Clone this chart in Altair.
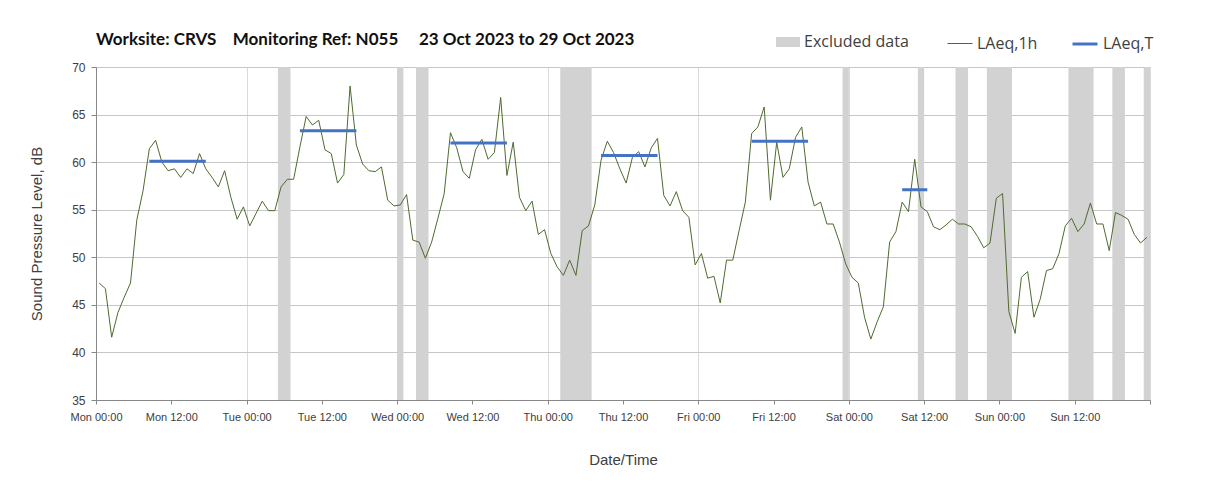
import altair as alt
import pandas as pd

# ---------------- data ----------------
days = ["Mon", "Tue", "Wed", "Thu", "Fri", "Sat", "Sun"]

# hourly LAeq,1h values, Mon 00:00 .. Sun 23:00 (168 hours)
laeq_1h = [
    47.3, 46.7, 41.6, 44.2, 45.8, 47.3, 53.9, 57.0, 61.4, 62.3, 60.0, 59.1,
    59.3, 58.4, 59.3, 58.8, 60.9, 59.3, 58.4, 57.4, 59.1, 56.3, 54.0, 55.3,
    53.3, 54.6, 55.9, 54.9, 54.9, 57.4, 58.2, 58.2, 61.6, 64.8, 63.9, 64.4,
    61.3, 60.9, 57.8, 58.7, 68.0, 61.8, 59.8, 59.1, 59.0, 59.5, 56.0, 55.4,
    55.5, 56.6, 51.8, 51.6, 49.9, 51.6, 54.1, 56.7, 63.1, 61.5, 59.0, 58.3,
    61.3, 62.4, 60.3, 61.0, 66.8, 58.6, 62.1, 56.3, 54.9, 55.9, 52.4, 52.9,
    50.4, 49.0, 48.1, 49.7, 48.1, 52.8, 53.3, 55.5, 60.2, 62.2, 61.0, 59.3,
    57.8, 60.5, 61.1, 59.5, 61.5, 62.5, 56.5, 55.4, 56.9, 54.9, 54.2, 49.2,
    50.4, 47.8, 48.0, 45.2, 49.7, 49.7, 52.8, 55.8, 63.0, 63.7, 65.8, 56.0,
    62.1, 58.4, 59.3, 62.6, 63.7, 57.9, 55.4, 55.8, 53.5, 53.5, 51.6, 49.3,
    47.9, 47.3, 43.7, 41.4, 43.2, 44.8, 51.6, 52.7, 55.8, 54.8, 60.3, 55.3,
    54.8, 53.2, 52.9, 53.4, 54.0, 53.5, 53.5, 53.2, 52.2, 51.0, 51.5, 56.2,
    56.7, 44.3, 42.0, 47.9, 48.5, 43.7, 45.6, 48.6, 48.8, 50.4, 53.3, 54.1,
    52.7, 53.5, 55.7, 53.5, 53.5, 50.7, 54.7, 54.4, 54.0, 52.4, 51.5, 52.1,
]

# excluded-data periods (hour from start of week)
excl_start = [29, 48, 51, 74, 119, 131, 137, 142, 155, 162, 167]
excl_end = [31, 49, 53, 79, 120, 132, 139, 146, 159, 164, 168]

# LAeq,T periods (first hour, last hour, level)
laeqT_first = [8, 32, 56, 80, 104, 128]
laeqT_last = [17, 41, 65, 89, 113, 132]
laeqT_level = [60.1, 63.3, 62.0, 60.7, 62.2, 57.1]

hours = list(range(len(laeq_1h)))
tick_hours = list(range(0, 169, 12))
y_ticks = list(range(35, 71, 5))

FONT = "Lato"
LEG_FONT = "Open Sans"
TXT = "#404040"

line_df = pd.DataFrame({"hour": hours, "level": laeq_1h, "series": "LAeq,1h"})
excl_df = pd.DataFrame({"start": excl_start, "end": excl_end, "band": "Excluded data"})
t_df = pd.DataFrame({"first": laeqT_first, "last": laeqT_last,
                     "level": laeqT_level, "series": "LAeq,T"})

day_arr = "[" + ",".join("'%s'" % d for d in days) + "]"
label_expr = ("datum.value >= 168 ? '' : %s[floor(datum.value/24)] + "
              "(datum.value %% 24 == 0 ? ' 00:00' : ' 12:00')") % day_arr

xscale = alt.Scale(domain=[0, 168], nice=False, zero=False)
yscale = alt.Scale(domain=[35, 70], nice=False, zero=False)

x_axis = alt.Axis(
    values=tick_hours, labelExpr=label_expr, labelFlush=False, labelOverlap=False,
    labelFontSize=11, labelColor=TXT, labelPadding=7, tickSize=4,
    grid=True,
    gridColor={"condition": {"test": "datum.value % 24 == 0", "value": "#dadada"},
               "value": "transparent"},
    title="Date/Time", titleFontSize=15, titleFontWeight="normal", titleColor=TXT,
    titlePadding=30,
)
y_axis = alt.Axis(
    values=y_ticks, labelFontSize=12, labelColor=TXT, labelPadding=6, tickSize=5,
    grid=True, gridColor="#c6c6c6",
    title="Sound Pressure Level, dB", titleFontSize=15, titleFontWeight="normal",
    titleColor=TXT, titlePadding=27,
)

stroke_scale = alt.Scale(domain=["LAeq,1h", "LAeq,T"], range=["#4e6b2f", "#4472c4"])
width_scale = alt.Scale(domain=["LAeq,1h", "LAeq,T"], range=[1, 3])

line_legend = alt.Legend(
    title=None, orient="none", legendX=851, legendY=-37, direction="horizontal",
    symbolType="stroke", symbolSize=625, labelFontSize=16, labelFont=LEG_FONT,
    labelColor=TXT, columnPadding=28, labelOffset=4,
)
band_legend = alt.Legend(
    title=None, orient="none", legendX=680, legendY=-37,
    symbolType="M-1,-0.42H1V0.42H-1Z", symbolSize=576, symbolStrokeWidth=0,
    labelFontSize=16, labelFont=LEG_FONT, labelColor=TXT, labelOffset=4,
)

bands = alt.Chart(excl_df).mark_rect(opacity=1).encode(
    x=alt.X("start:Q", scale=xscale, axis=x_axis),
    x2="end:Q",
    y=alt.Y(datum=35, scale=yscale, axis=y_axis),
    y2=alt.Y2(datum=70),
    fill=alt.Fill("band:N", scale=alt.Scale(domain=["Excluded data"], range=["#d2d2d2"]),
                  legend=band_legend),
)

line = alt.Chart(line_df).transform_calculate(mid="datum.hour + 0.5").mark_line(
    interpolate="linear"
).encode(
    x=alt.X("mid:Q", scale=xscale),
    y=alt.Y("level:Q", scale=yscale),
    stroke=alt.Stroke("series:N", scale=stroke_scale, legend=line_legend),
    strokeWidth=alt.StrokeWidth("series:N", scale=width_scale, legend=line_legend),
)

tline = alt.Chart(t_df).transform_calculate(
    xs="datum.first + 0.5", xe="datum.last + 0.5"
).mark_rule().encode(
    x=alt.X("xs:Q", scale=xscale),
    x2="xe:Q",
    y=alt.Y("level:Q", scale=yscale),
    stroke=alt.Stroke("series:N", scale=stroke_scale, legend=line_legend),
    strokeWidth=alt.StrokeWidth("series:N", scale=width_scale, legend=line_legend),
)

title_text = ("Worksite: CRVS\u00a0\u00a0\u00a0\u00a0Monitoring Ref: N055"
              "\u00a0\u00a0\u00a0\u00a0\u00a023 Oct 2023 to 29 Oct 2023")

chart = alt.layer(bands, line, tline).properties(
    width=1054, height=333,
    title=alt.Title(title_text, anchor="start", frame="group", font=FONT, fontSize=17,
                    fontWeight="bold", color="#111111", offset=0, baseline="alphabetic",
                    dy=32),
    autosize=alt.AutoSizeParams(type="none"),
    padding={"left": 88, "top": 59, "right": 50, "bottom": 70},
).resolve_legend(stroke="shared").configure_view(
    stroke="#bfbfbf", strokeWidth=1
).configure_axis(
    labelFont=FONT, titleFont=FONT, domainColor="#a6a6a6", tickColor="#a6a6a6",
    gridWidth=1,
).configure(background="white")

chart.save("out.html", embed_options={"renderer": "svg", "actions": False})
